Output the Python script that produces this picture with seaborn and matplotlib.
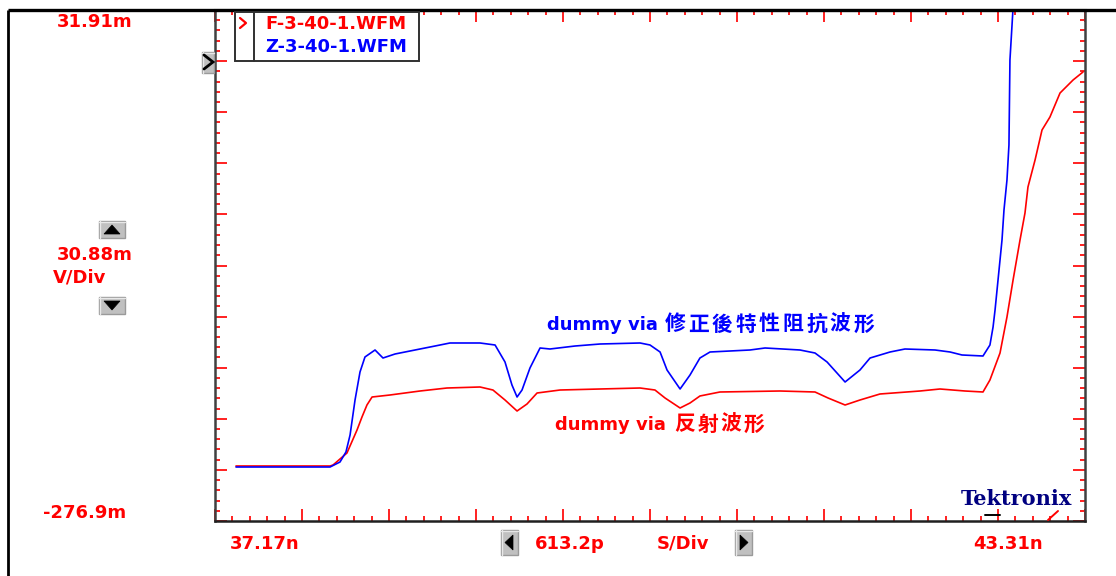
import numpy as np
import pandas as pd
import matplotlib
matplotlib.use("Agg")
import matplotlib.pyplot as plt
from matplotlib.patches import Rectangle, Polygon
from matplotlib.ticker import FixedLocator
import seaborn as sns

# ---------------- data (time in ns, voltage in mV) ----------------
t_f = [37.318, 37.981, 38.002, 38.100, 38.171, 38.206, 38.241, 38.277, 38.403, 38.615,
       38.805, 39.038, 39.129, 39.214, 39.299, 39.369, 39.440, 39.602, 39.884, 40.166,
       40.271, 40.342, 40.448, 40.518, 40.588, 40.729, 41.152, 41.399, 41.491, 41.611,
       41.716, 41.857, 42.139, 42.280, 42.456, 42.583, 42.632, 42.703, 42.752, 42.795,
       42.844, 42.879, 42.900, 42.950, 42.999, 43.055, 43.126, 43.218, 43.288]
v_f = [-243.66, -243.66, -243.06, -235.81, -221.91, -214.05, -206.80, -201.97, -200.76, -198.34,
       -196.53, -195.92, -197.74, -203.78, -210.43, -206.20, -199.55, -197.74, -197.13, -196.53,
       -197.74, -202.57, -208.61, -205.59, -201.36, -198.94, -198.34, -198.94, -202.57, -206.80,
       -203.78, -200.15, -198.34, -197.13, -198.34, -198.94, -191.69, -175.38, -153.62, -131.26,
       -107.09, -90.77, -75.06, -58.74, -40.61, -32.76, -18.26, -10.40, -5.56]

t_z = [37.318, 37.981, 38.051, 38.093, 38.122, 38.157, 38.192, 38.227, 38.298, 38.354,
       38.439, 38.580, 38.721, 38.826, 39.038, 39.144, 39.214, 39.263, 39.299, 39.334,
       39.390, 39.461, 39.531, 39.708, 39.884, 40.166, 40.236, 40.307, 40.356, 40.448,
       40.518, 40.588, 40.659, 40.941, 41.047, 41.293, 41.399, 41.484, 41.611, 41.716,
       41.787, 41.928, 42.033, 42.245, 42.351, 42.435, 42.583, 42.632, 42.654, 42.668,
       42.689, 42.717, 42.731, 42.752, 42.766, 42.773, 42.794]
v_z = [-244.27, -244.27, -241.25, -235.20, -224.93, -203.78, -186.86, -177.79, -173.56, -178.40,
       -175.98, -173.56, -171.15, -169.33, -169.33, -170.54, -180.81, -194.71, -201.97, -197.74,
       -184.44, -172.35, -172.96, -171.15, -169.94, -169.33, -170.54, -174.77, -185.65, -197.13,
       -188.67, -178.40, -174.77, -173.56, -172.35, -173.56, -175.38, -180.81, -192.90, -185.65,
       -178.40, -174.77, -172.96, -173.56, -174.77, -176.58, -177.19, -170.54, -159.66, -149.39,
       -131.26, -107.09, -88.96, -70.83, -49.68, 1.69, 31.90]

trace_names = ["F-3-40-1.WFM", "Z-3-40-1.WFM"]
trace_colors = ["#ff0000", "#0000ff"]

t_start, t_div = 37.17, 0.6132      # ns
v_bottom, v_div = -276.9, 30.88     # mV
n_div = 10

label_top = "31.91m"
label_vdiv = "30.88m"
label_vunit = "V/Div"
label_bottom = "-276.9m"
label_tstart = "37.17n"
label_tdiv = "613.2p"
label_tunit = "S/Div"
label_tend = "43.31n"
note_z = ("dummy via", "修正後特性阻抗波形")
note_f = ("dummy via", "反射波形")

df = pd.concat([
    pd.DataFrame({"t": t_f, "v": v_f, "trace": trace_names[0]}),
    pd.DataFrame({"t": t_z, "v": v_z, "trace": trace_names[1]}),
], ignore_index=True)

# ---------------- style ----------------
sns.set_style("white")
plt.rcParams["font.family"] = ["DejaVu Sans", "Noto Sans CJK TC"]
plt.rcParams["font.weight"] = "bold"

W, H = 1116, 576
fig = plt.figure(figsize=(W / 100, H / 100), dpi=100)
fig.patch.set_facecolor("white")

L, R, T, B = 215, 1085, 10, 521
ax = fig.add_axes([L / W, 1 - B / H, (R - L) / W, (B - T) / H])
ax.set_facecolor("white")

sns.lineplot(data=df, x="t", y="v", hue="trace", hue_order=trace_names,
             palette=trace_colors, sort=False, estimator=None, legend=False,
             linewidth=1.2, ax=ax)

x0, x1 = t_start, t_start + n_div * t_div
y0, y1 = v_bottom, v_bottom + n_div * v_div
ax.set_xlim(x0, x1)
ax.set_ylim(y0, y1)
ax.set_xlabel("")
ax.set_ylabel("")

ax.xaxis.set_major_locator(FixedLocator([x0 + k * t_div for k in range(n_div + 1)]))
ax.xaxis.set_minor_locator(FixedLocator([x0 + k * t_div / 5 for k in range(n_div * 5 + 1)]))
ax.yaxis.set_major_locator(FixedLocator([y0 + k * v_div for k in range(n_div + 1)]))
ax.yaxis.set_minor_locator(FixedLocator([y0 + k * v_div / 5 for k in range(n_div * 5 + 1)]))
ax.tick_params(which="both", direction="in", colors="#ff2020", width=1.4,
               top=True, bottom=True, left=True, right=True,
               labelbottom=False, labelleft=False, labeltop=False, labelright=False)
ax.tick_params(which="major", length=8.5)
ax.tick_params(which="minor", length=3.8)

for side, col, lw in [("left", "#404040", 1.8), ("right", "#404040", 1.8),
                      ("bottom", "#202020", 1.8), ("top", "black", 2.2)]:
    ax.spines[side].set_color(col)
    ax.spines[side].set_linewidth(lw)

# ---------------- overlay in pixel coordinates ----------------
ov = fig.add_axes([0, 0, 1, 1], facecolor="none")
ov.set_xlim(0, W)
ov.set_ylim(H, 0)
ov.axis("off")

# frame lines
ov.plot([8, W], [10, 10], color="black", lw=2.4, solid_capstyle="butt")
ov.plot([8, 8], [10, H], color="black", lw=2.0, solid_capstyle="butt")

red = "#ff0000"
fs = 13
ov.text(95, 22, label_top, color=red, fontsize=fs, ha="center", va="center", fontweight="bold")
ov.text(95, 255, label_vdiv, color=red, fontsize=fs, ha="center", va="center", fontweight="bold")
ov.text(80, 277, label_vunit, color=red, fontsize=fs, ha="center", va="center", fontweight="bold")
ov.text(85, 513, label_bottom, color=red, fontsize=fs, ha="center", va="center", fontweight="bold")
ov.text(265, 544, label_tstart, color=red, fontsize=fs, ha="center", va="center", fontweight="bold")
ov.text(570, 544, label_tdiv, color=red, fontsize=fs, ha="center", va="center", fontweight="bold")
ov.text(683, 544, label_tunit, color=red, fontsize=fs, ha="center", va="center", fontweight="bold")
ov.text(1008, 544, label_tend, color=red, fontsize=fs, ha="center", va="center", fontweight="bold")


def button(x, y, w, h, tri=None, face="#c0c0c0"):
    ov.add_patch(Rectangle((x, y), w, h, facecolor=face, edgecolor="#9a9a9a", lw=1.0))
    ov.plot([x, x + w], [y + 0.5, y + 0.5], color="#e8e8e8", lw=1)
    ov.plot([x + 0.5, x + 0.5], [y, y + h], color="#e8e8e8", lw=1)
    if tri is not None:
        ov.add_patch(Polygon(tri, closed=True, facecolor="black", edgecolor="black", lw=0.5))


button(99, 221, 26, 17, [(104, 234), (120, 234), (112, 225)])
button(99, 297, 26, 17, [(104, 301), (120, 301), (112, 310)])
button(501, 530, 17, 25, [(505, 542.5), (513, 535), (513, 550)])
button(735, 530, 17, 25, [(748, 542.5), (740, 535), (740, 550)])
button(202, 52, 12, 21)
ov.plot([204, 213, 204], [55, 62, 69], color="black", lw=2.0, solid_joinstyle="miter")

# legend box
ov.add_patch(Rectangle((235, 12), 184, 49, facecolor="white", edgecolor="#303030", lw=1.4, zorder=3))
ov.plot([254, 254], [12, 61], color="#303030", lw=1.4, zorder=4)
ov.plot([240, 246, 240], [18, 23, 28], color=red, lw=1.6, zorder=4)
ov.text(265, 24, trace_names[0], color=trace_colors[0], fontsize=fs, ha="left", va="center",
        fontweight="bold", zorder=5)
ov.text(265, 47, trace_names[1], color=trace_colors[1], fontsize=fs, ha="left", va="center",
        fontweight="bold", zorder=5)

# annotations
def note(x, y, parts, color, cjk_x, step):
    ov.text(x, y, parts[0], color=color, fontsize=fs, ha="left", va="center", fontweight="bold")
    for i, ch in enumerate(parts[1]):
        ov.text(cjk_x + i * step, y - 1, ch, color=color, fontsize=15, ha="center", va="center",
                fontweight="bold", family=["Noto Sans CJK TC"])


note(547, 325, note_z, trace_colors[1], 675, 23.6)
note(555, 425, note_f, trace_colors[0], 685, 23.0)

# Tektronix logo
ov.text(1016, 499, "Tektronix", color="#000080", fontsize=15, ha="center", va="center",
        fontweight="bold", family=["DejaVu Serif"])
ov.plot([985, 1000], [515, 515], color="black", lw=1.4)
ov.plot([1048, 1058], [520, 511], color=red, lw=1.4)

fig.savefig("out.png", dpi=100)
